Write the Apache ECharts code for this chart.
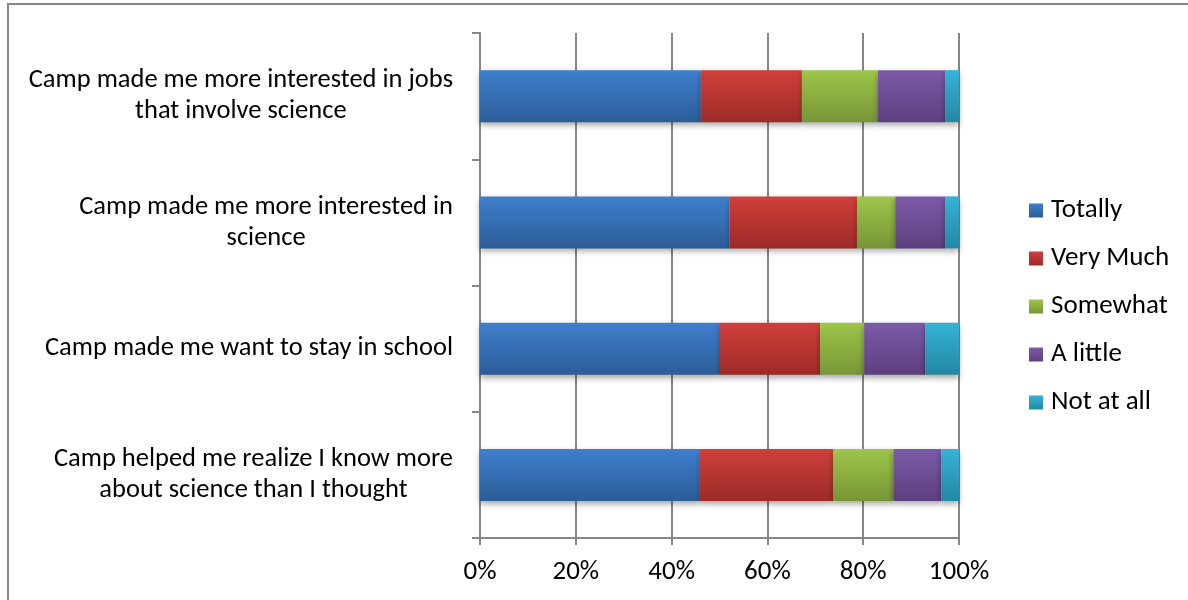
<!DOCTYPE html>
<html>
<head>
<meta charset="utf-8">
<script src="https://cdn.jsdelivr.net/npm/echarts@6/dist/echarts.min.js"></script>
<style>
  html, body { margin: 0; padding: 0; background: #fff; }
  #main { width: 1188px; height: 600px; }
</style>
</head>
<body>
<div id="main"></div>
<script>
// questions, top to bottom as shown
var categories = [
  'Camp made me more interested in jobs\nthat involve science',
  'Camp made me more interested in\nscience',
  'Camp made me want to stay in school',
  'Camp helped me realize I know more\nabout science than I thought'
];
var seriesNames = ['Totally', 'Very Much', 'Somewhat', 'A little', 'Not at all'];

// percent of answers per question (same order as categories)
var totally   = [46.1, 52.1, 50.1, 45.9];
var veryMuch  = [21.1, 26.6, 20.9, 27.8];
var somewhat  = [15.9,  8.0,  9.2, 12.6];
var aLittle   = [14.0, 10.4, 12.8, 10.0];
var notAtAll  = [ 2.9,  2.9,  7.0,  3.7];

var tickLabels = ['0%', '20%', '40%', '60%', '80%', '100%'];

// top / bottom gradient colours
var colours = [
  ['#3e7fcd', '#2c5d98'],
  ['#d03f3b', '#9d2b28'],
  ['#9dc64a', '#779636'],
  ['#7c5aa8', '#5d3f7f'],
  ['#35b3d7', '#2388a3']
];

var FONT = 'Carlito, Lato, "Open Sans", sans-serif';

function grad(c) {
  return new echarts.graphic.LinearGradient(0, 0, 0, 1, [
    { offset: 0, color: c[0] },
    { offset: 1, color: c[1] }
  ]);
}

var allData = [totally, veryMuch, somewhat, aLittle, notAtAll];
var series = [];
for (var i = 0; i < seriesNames.length; i++) {
  series.push({
    name: seriesNames[i],
    type: 'bar',
    stack: 'all',
    barWidth: 52,
    data: allData[i],
    itemStyle: {
      color: grad(colours[i]),
      shadowColor: 'rgba(0,0,0,0.35)',
      shadowBlur: 6,
      shadowOffsetY: 3
    }
  });
}

var myChart = echarts.init(document.getElementById('main'));
var option = {
  animation: false,
  color: colours.map(function (c) { return grad(c); }),
  graphic: [{
    type: 'rect',
    shape: { x: 8, y: 4, width: 1200, height: 610 },
    style: { fill: 'none', stroke: '#868686', lineWidth: 2 },
    silent: true
  }],
  grid: { left: 480, right: 229, top: 33, bottom: 62 },
  legend: {
    orient: 'vertical',
    left: 1024,
    top: 192,
    itemWidth: 14,
    itemHeight: 14,
    itemGap: 21,
    icon: 'rect',
    textStyle: { fontSize: 27, color: '#000', fontFamily: FONT, padding: [0, 0, 0, 3] },
    data: seriesNames
  },
  xAxis: {
    type: 'value',
    min: 0,
    max: 100,
    interval: 20,
    axisLine: { show: true, lineStyle: { color: '#868686', width: 2 } },
    axisTick: { show: true, length: 7, lineStyle: { color: '#868686', width: 2 } },
    splitLine: { show: true, lineStyle: { color: '#868686', width: 2 } },
    axisLabel: {
      margin: 21,
      fontSize: 27,
      color: '#000',
      fontFamily: FONT,
      formatter: function (v) { return tickLabels[v / 20]; }
    }
  },
  yAxis: {
    type: 'category',
    inverse: true,
    data: categories,
    axisLine: { show: true, lineStyle: { color: '#868686', width: 2 } },
    axisTick: { show: true, length: 8, lineStyle: { color: '#868686', width: 2 } },
    axisLabel: {
      margin: 27,
      align: 'right',
      color: '#000',
      // block is right aligned, each line centred inside it
      formatter: function (v) {
        return v.split('\n').map(function (s) { return '{q|' + s + '}'; }).join('\n');
      },
      rich: {
        q: { align: 'center', fontSize: 26.5, lineHeight: 31, fontFamily: FONT, color: '#000' }
      }
    }
  },
  series: series
};
myChart.setOption(option);
</script>
</body>
</html>
